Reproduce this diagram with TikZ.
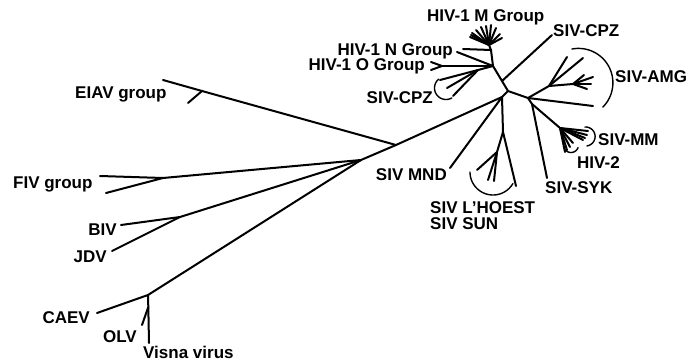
\documentclass[tikz,border=0pt]{standalone}
\usepackage{fontspec}
\setmainfont{Liberation Sans}
\begin{document}
\begin{tikzpicture}[x=1pt,y=-1pt,
  br/.style={line width=2pt, line cap=round, line join=round},
  arcl/.style={line width=1.4pt, line cap=round},
  lbl/.style={font=\bfseries\fontsize{17}{19}\selectfont, inner sep=0pt}]
\useasboundingbox (0,0) rectangle (688,364);
% ---------- coordinates (pixel space, y down) ----------
% left side
\coordinate (cv) at (148,295);
\coordinate (caev) at (97,313);
\coordinate (visna) at (149,343);
\coordinate (olvb) at (148.3,307);
\coordinate (olv) at (142,325);
\coordinate (j1) at (361,160);
\coordinate (fiv) at (163,178);
\coordinate (fiva) at (100,176);
\coordinate (fivb) at (106,193);
\coordinate (biv) at (180,217);
\coordinate (bivl) at (121,225);
\coordinate (jdvl) at (112,251);
\coordinate (je) at (396,145);
\coordinate (eiav) at (202,91);
\coordinate (eiavl) at (163,80);
\coordinate (eiavs) at (188,103);
% primate lentiviruses
\coordinate (nb) at (502,97);
\coordinate (nr) at (508,91);
\coordinate (mnd) at (450,168);
\coordinate (ln) at (503,132);
\coordinate (ll) at (516,186);
\coordinate (lf) at (497,152);
\coordinate (pc) at (502,81);
\coordinate (cpzu) at (552,35);
\coordinate (nh) at (493,66);
\coordinate (mh) at (491,50);
\coordinate (mn) at (489,45);
\coordinate (mhl) at (463,49);
\coordinate (nl) at (457,52);
\coordinate (on) at (442,66);
\coordinate (cz) at (478,70);
\coordinate (ja) at (528,98);
\coordinate (a1) at (549,86);
\coordinate (a2) at (573,84);
\coordinate (aml) at (593,106);
\coordinate (jm) at (532,104);
\coordinate (syk) at (547,178);
\coordinate (mm) at (560,128);
% ---------- branches ----------
\draw[br] (caev) -- (cv) -- (j1);
\draw[br] (cv) -- (olvb) -- (visna);
\draw[br] (olvb) -- (olv);
\draw[br] (fiva) -- (fiv) -- (j1);
\draw[br] (fivb) -- (fiv);
\draw[br] (bivl) -- (biv) -- (j1);
\draw[br] (jdvl) -- (biv);
\draw[br] (j1) -- (je) -- (nb) -- (nr);
\draw[br] (eiavl) -- (eiav) -- (je);
\draw[br] (eiavs) -- (eiav);
\draw[br] (nb) -- (mnd);
\draw[br] (nb) -- (ln) -- (ll);
\draw[br] (ln) -- (lf);
\foreach \p in {(477,170),(488,180),(494,181)} \draw[br] (lf) -- \p;
\draw[br] (nr) -- (pc) -- (nh) -- (mh) -- (mn);
\draw[br] (pc) -- (cpzu);
\draw[br] (mh) -- (mhl);
\foreach \p in {(470,37),(471,35),(472,33),(476,30),(481,27),(486,26),(491,25),(496,28),(500,34),(502,38)} \draw[br] (mn) -- \p;
\draw[br] (nh) -- (nl);
\draw[br] (nh) -- (on);
\draw[br] (on) -- (431,62);
\draw[br] (on) -- (431,70);
\draw[br] (nh) -- (cz);
\foreach \p in {(440,80),(447,88),(453,96)} \draw[br] (cz) -- \p;
\draw[br] (nr) -- (ja) -- (aml);
\draw[br] (ja) -- (a1) -- (567,57);
\draw[br] (a1) -- (583,58);
\draw[br] (a1) -- (a2);
\foreach \p in {(593,77),(584,75),(591,84),(587,89)} \draw[br] (a2) -- \p;
\draw[br] (ja) -- (jm) -- (syk);
\draw[br] (jm) -- (mm);
\foreach \p in {(588,131),(587,135),(585,138),(583,140),(573,143),(570,147),(567,150),(565,152)} \draw[br] (mm) -- \p;
% ---------- clade arcs ----------
\draw[arcl] plot[domain=-101:45, samples=40, smooth] ({578.5+34.4*cos(\x)},{82.8+34.4*sin(\x)});
\draw[arcl] plot[domain=-94:82, samples=30, smooth] ({585.6+9.5*cos(\x)},{136.5+9.5*sin(\x)});
\draw[arcl] plot[domain=20:170, samples=30, smooth] ({571+7.5*cos(\x)},{145+7.5*sin(\x)});
\draw[arcl] plot[domain=60:230, samples=30, smooth] ({446+11.5*cos(\x)},{88+11.5*sin(\x)});
\draw[arcl] plot[domain=30:180, samples=40, smooth] ({493+23*cos(\x)},{172+23*sin(\x)});
% ---------- labels ----------
\node[lbl, anchor=base west] (tM) at (427,21) {HIV-1 M Group};
\node[lbl, anchor=base west] (tCu) at (553,36) {SIV-CPZ};
\node[lbl, anchor=base east] (tN) at (453,55) {HIV-1 N Group};
\node[lbl, anchor=base east] (tO) at (425,70.5) {HIV-1 O Group};
\node[lbl, anchor=base east] (tCl) at (433,103) {SIV-CPZ};
\node[lbl, anchor=base west] (tA) at (615,82) {SIV-AMG};
\node[lbl, anchor=base west] (tMM) at (598,145) {SIV-MM};
\node[lbl, anchor=base west] (tH2) at (577,168) {HIV-2};
\node[lbl, anchor=base west] (tS) at (545,193) {SIV-SYK};
\node[lbl, anchor=base east] (tMND) at (447,180) {SIV MND};
\node[lbl, anchor=base west] (tL) at (430,213) {SIV L'HOEST};
\node[lbl, anchor=base west] (tSUN) at (430,229) {SIV SUN};
\node[lbl, anchor=base west] (tE) at (75,98) {EIAV group};
\node[lbl, anchor=base west] (tF) at (13,188) {FIV group};
\node[lbl, anchor=base east] (tB) at (117,235) {BIV};
\node[lbl, anchor=base east] (tJ) at (107,262) {JDV};
\node[lbl, anchor=base east] (tC) at (90,323) {CAEV};
\node[lbl, anchor=base east] (tOL) at (137,342) {OLV};
\node[lbl, anchor=base west] (tV) at (143,358) {Visna virus};
\end{tikzpicture}
\end{document}
